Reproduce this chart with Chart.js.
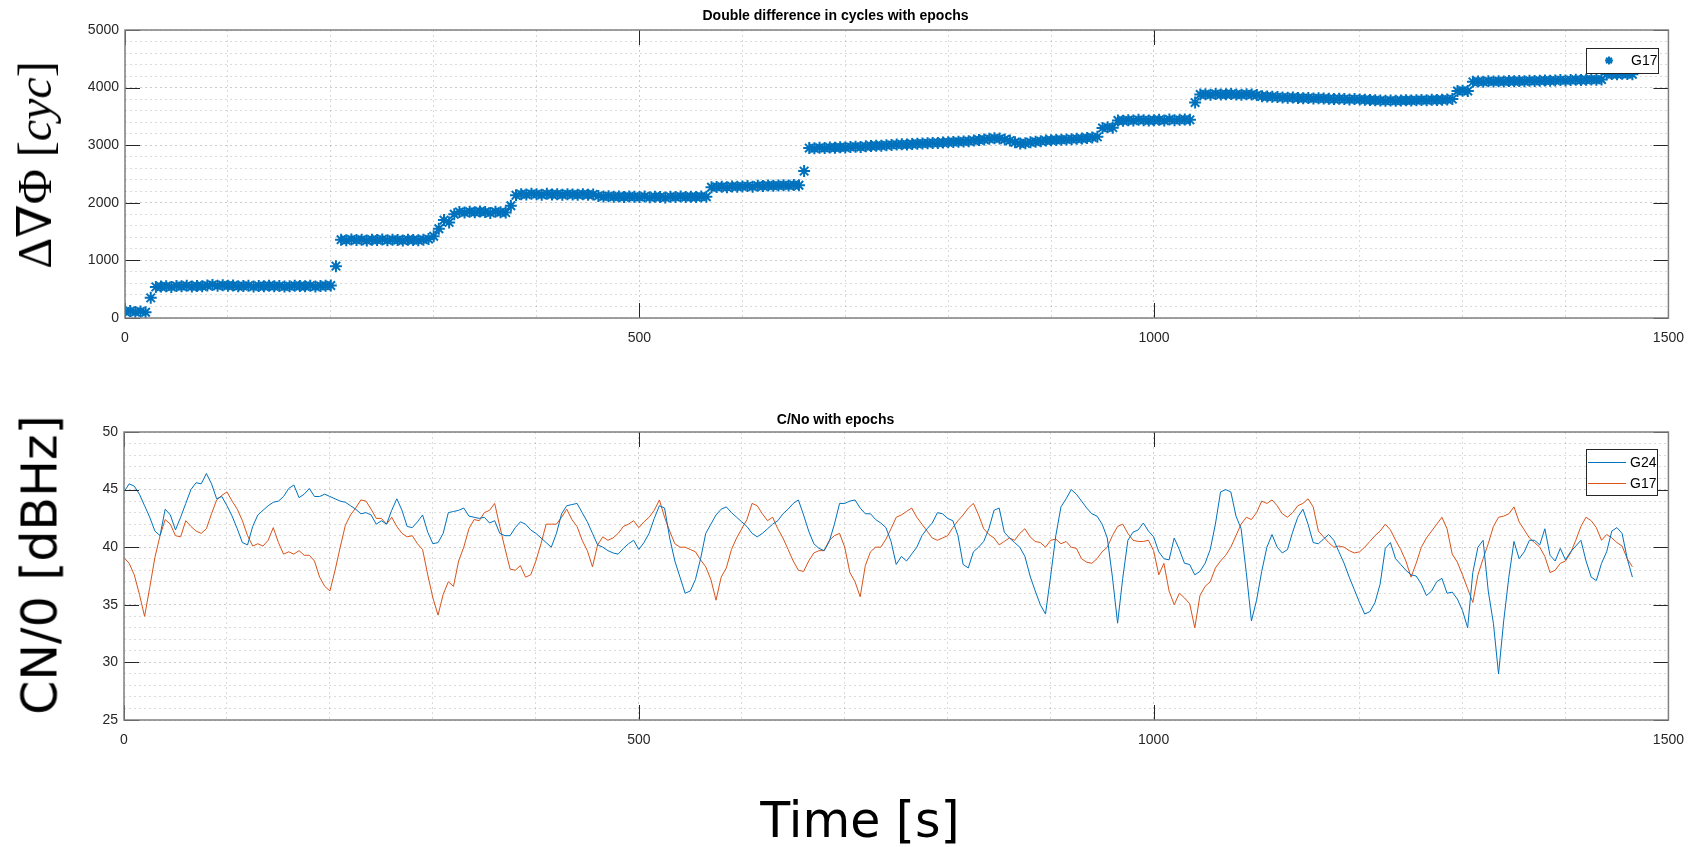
<!DOCTYPE html>
<html>
<head>
<meta charset="utf-8">
<title>Double difference and C/No with epochs</title>
<script src="https://cdn.jsdelivr.net/npm/chart.js@4/dist/chart.umd.min.js"></script>
<style>
    html, body { margin: 0; padding: 0; background: #fff; }
    body { width: 1696px; height: 847px; position: relative; overflow: hidden; }
    canvas { position: absolute; left: 0; }
    #ddChart { top: 0; }
    #cnoChart { top: 380px; }
    .label { position: absolute; white-space: nowrap; color: #000; line-height: 1; }
    .vertical { transform: translate(-50%, -50%) rotate(-90deg); }
    #ddLabel { left: 35px; top: 165px; font-family: 'Liberation Serif', 'DejaVu Serif', serif; font-size: 48px; }
    #cnoLabel { left: 40px; top: 565px; font-family: 'DejaVu Sans', Verdana, sans-serif; font-size: 49px; }
    #timeLabel { left: 860px; top: 820px; transform: translate(-50%, -50%); font-family: 'DejaVu Sans', Verdana, sans-serif; font-size: 49px; }
</style>
</head>
<body>
<canvas id="ddChart" width="1696" height="360"></canvas>
<canvas id="cnoChart" width="1696" height="380"></canvas>
<div id="ddLabel" class="label vertical">Δ∇Φ [<i>cyc</i>]</div>
<div id="cnoLabel" class="label vertical">CN/0 [dBHz]</div>
<div id="timeLabel" class="label">Time [s]</div>
<script>
// one sample every 5 s of the session
var EPOCH_STEP = 5;

var timeTicks = [0, 500, 1000, 1500];
var ddTicks = [0, 1000, 2000, 3000, 4000, 5000];
var cnoTicks = [25, 30, 35, 40, 45, 50];

// double difference G17, cycles
var ddG17 = [
    110, 120, 105, 115, 100, 350, 540, 545, 550, 540, 555, 550, 560, 545, 555, 550, 565, 575, 560, 570,
    560, 565, 550, 555, 560, 545, 555, 550, 560, 550, 555, 545, 550, 560, 555, 550, 560, 545, 555, 560,
    565, 900, 1360, 1350, 1365, 1355, 1360, 1345, 1360, 1355, 1365, 1350, 1360, 1355, 1345, 1360, 1355, 1350, 1360, 1370,
    1420, 1550, 1700, 1660, 1800, 1840, 1830, 1845, 1835, 1850, 1840, 1825, 1845, 1835, 1830, 1950, 2130, 2150, 2145, 2155,
    2150, 2140, 2155, 2145, 2150, 2140, 2150, 2145, 2140, 2150, 2140, 2145, 2120, 2110, 2115, 2105, 2110, 2100, 2110, 2105,
    2100, 2110, 2095, 2105, 2100, 2090, 2105, 2100, 2110, 2100, 2105, 2100, 2110, 2105, 2270, 2275, 2280, 2270, 2285, 2280,
    2285, 2290, 2280, 2295, 2290, 2300, 2295, 2300, 2305, 2300, 2310, 2305, 2550, 2950, 2945, 2955, 2950, 2960, 2955, 2965,
    2960, 2970, 2975, 2970, 2980, 2985, 2990, 2990, 3000, 3005, 3010, 3015, 3010, 3020, 3025, 3030, 3035, 3040, 3040, 3045,
    3050, 3055, 3060, 3065, 3070, 3080, 3090, 3100, 3110, 3120, 3115, 3100, 3080, 3050, 3030, 3035, 3050, 3060, 3070, 3080,
    3085, 3090, 3095, 3100, 3105, 3110, 3115, 3125, 3135, 3145, 3300, 3310, 3305, 3430, 3425, 3435, 3430, 3440, 3435, 3430,
    3435, 3440, 3430, 3445, 3435, 3440, 3445, 3440, 3740, 3880, 3885, 3875, 3890, 3880, 3885, 3890, 3880, 3875, 3885, 3880,
    3870, 3850, 3845, 3840, 3835, 3830, 3825, 3830, 3820, 3815, 3820, 3810, 3815, 3810, 3805, 3800, 3805, 3800, 3795, 3800,
    3795, 3790, 3785, 3780, 3775, 3770, 3775, 3770, 3775, 3780, 3775, 3780, 3785, 3780, 3790, 3785, 3790, 3795, 3800, 3940,
    3945, 3940, 4100, 4105, 4100, 4110, 4105, 4110, 4105, 4115, 4110, 4115, 4110, 4120, 4115, 4120, 4125, 4120, 4125, 4130,
    4125, 4130, 4135, 4130, 4135, 4140, 4135, 4140, 4230, 4235, 4230, 4240, 4235, 4230
];

// carrier to noise, dBHz
var cnoG24 = [
    44.8, 45.5, 45.3, 44.6, 43.6, 42.6, 41.4, 41.0, 43.3, 42.8, 41.5, 42.6, 43.8, 45.0, 45.6, 45.5, 46.4, 45.5, 44.2, 44.4,
    43.6, 42.7, 41.6, 40.4, 40.2, 41.8, 42.8, 43.2, 43.6, 43.9, 44.0, 44.4, 45.1, 45.4, 44.3, 44.6, 45.1, 44.4, 44.4, 44.6,
    44.4, 44.2, 44.0, 43.9, 43.6, 43.3, 42.9, 43.0, 42.8, 42.0, 42.3, 42.0, 43.2, 44.2, 43.2, 41.8, 41.7, 42.2, 42.8, 41.3,
    40.3, 40.4, 41.2, 43.0, 43.1, 43.2, 43.4, 42.7, 42.6, 42.5, 42.6, 42.1, 42.3, 41.2, 41.0, 41.0, 41.7, 42.2, 42.0, 41.5,
    41.2, 40.8, 40.4, 40.0, 41.2, 42.9, 43.6, 43.7, 43.8, 43.0, 42.2, 41.2, 40.2, 40.0, 39.7, 39.5, 39.4, 39.9, 40.3, 40.6,
    39.8, 40.4, 41.2, 42.5, 43.6, 43.4, 40.8, 38.8, 37.4, 36.0, 36.2, 37.2, 39.0, 41.2, 42.0, 42.8, 43.3, 43.5, 43.0, 42.6,
    42.2, 41.8, 41.2, 40.9, 41.2, 41.6, 42.0, 42.3, 42.9, 43.3, 43.8, 44.1, 42.8, 41.4, 40.3, 39.9, 39.7, 40.5, 42.0, 43.8,
    43.8, 44.0, 44.1, 43.4, 42.9, 42.9, 42.4, 42.1, 41.7, 40.5, 38.5, 39.2, 38.8, 39.4, 40.0, 41.0, 41.6, 42.1, 43.0, 42.9,
    42.5, 42.3, 41.0, 38.5, 38.2, 39.6, 40.0, 40.5, 41.6, 43.2, 43.4, 41.3, 40.8, 40.4, 40.0, 39.2, 37.5, 36.2, 35.0, 34.2,
    37.5, 41.0, 43.5, 44.2, 45.0, 44.6, 44.0, 43.4, 42.9, 42.7, 42.0, 40.8, 37.4, 33.4, 37.3, 40.6, 41.3, 41.5, 42.1, 41.4,
    40.9, 39.6, 39.0, 38.9, 40.8, 39.8, 38.6, 38.5, 37.6, 37.9, 38.6, 39.8, 42.0, 44.8, 45.0, 44.8, 42.7, 41.6, 37.8, 33.6,
    35.4, 37.9, 40.0, 41.1, 40.0, 39.5, 39.8, 41.3, 42.6, 43.3, 42.0, 40.4, 40.3, 40.7, 41.1, 40.6, 39.6, 38.6, 37.4, 36.3,
    35.2, 34.2, 34.4, 35.2, 36.8, 39.9, 40.4, 39.0, 38.5, 38.0, 37.6, 37.5, 36.8, 35.8, 36.2, 37.0, 37.3, 36.0, 36.1, 35.5,
    34.5, 33.0, 37.8, 40.0, 40.6, 36.2, 33.4, 29.0, 33.6, 37.4, 40.5, 39.0, 39.6, 40.6, 40.6, 40.2, 41.6, 39.3, 38.8, 39.9,
    38.9, 39.6, 40.1, 40.6, 38.8, 37.4, 37.1, 38.6, 39.6, 41.4, 41.7, 41.2, 39.0, 37.4
];

var cnoG17 = [
    39.1, 38.6, 37.6, 35.9, 34.0, 36.5, 39.1, 41.0, 42.4, 42.0, 41.0, 40.9, 42.3, 41.8, 41.4, 41.2, 41.6, 42.9, 44.1, 44.5,
    44.8, 44.0, 43.3, 42.3, 41.0, 40.1, 40.3, 40.1, 40.6, 41.7, 40.4, 39.4, 39.6, 39.4, 39.7, 39.3, 39.3, 38.8, 37.4, 36.6,
    36.2, 38.0, 40.0, 41.9, 42.8, 43.4, 44.1, 44.0, 43.3, 42.5, 42.5, 42.0, 42.6, 41.8, 41.2, 40.9, 41.0, 40.3, 39.8, 37.6,
    35.6, 34.1, 35.9, 37.0, 36.6, 38.8, 40.0, 41.6, 42.4, 42.3, 43.0, 43.2, 43.8, 41.8, 39.9, 38.1, 38.0, 38.4, 37.4, 37.6,
    38.8, 40.3, 42.0, 42.0, 42.0, 42.6, 43.3, 42.4, 41.8, 40.6, 39.7, 38.3, 40.2, 40.9, 40.6, 40.8, 41.2, 41.8, 42.0, 42.3,
    41.7, 42.2, 42.6, 43.2, 44.1, 42.6, 41.4, 40.3, 40.0, 40.0, 39.8, 39.6, 38.9, 38.3, 37.2, 35.4, 37.4, 38.2, 39.8, 40.8,
    41.6, 42.4, 43.8, 43.6, 42.9, 42.3, 42.6, 41.6, 40.8, 39.8, 38.8, 38.0, 37.9, 38.8, 39.5, 39.7, 39.7, 40.6, 41.0, 41.2,
    40.0, 37.8, 37.0, 35.7, 38.4, 39.6, 40.0, 40.0, 40.7, 41.6, 42.6, 42.8, 43.1, 43.4, 42.6, 42.0, 41.4, 40.8, 40.6, 40.8,
    41.0, 41.7, 42.3, 42.8, 43.4, 43.8, 42.8, 41.6, 41.1, 40.8, 40.2, 40.5, 40.8, 40.6, 41.2, 41.6, 40.9, 40.5, 40.4, 40.0,
    40.6, 40.7, 40.3, 40.5, 40.0, 39.9, 39.0, 38.7, 38.6, 39.0, 39.6, 40.0, 41.0, 41.8, 42.0, 41.2, 40.6, 40.5, 40.5, 40.6,
    39.7, 37.6, 38.6, 36.2, 35.0, 36.0, 35.6, 35.1, 33.0, 35.8, 36.6, 37.0, 38.2, 38.8, 39.3, 40.0, 41.0, 42.0, 42.6, 42.4,
    43.0, 44.0, 43.8, 44.1, 43.6, 42.9, 42.6, 43.0, 43.6, 43.8, 44.2, 43.5, 41.4, 40.9, 40.4, 40.0, 40.1, 40.0, 39.7, 39.5,
    39.6, 40.0, 40.5, 41.0, 41.4, 42.0, 41.5, 40.6, 39.8, 38.8, 37.4, 38.6, 40.0, 40.8, 41.4, 42.0, 42.6, 41.6, 39.4, 38.7,
    37.6, 36.4, 35.2, 37.6, 39.0, 40.3, 41.8, 42.6, 42.7, 42.9, 43.5, 42.2, 41.5, 40.8, 40.4, 40.0, 39.2, 37.8, 38.0, 38.6,
    38.8, 39.5, 40.6, 41.8, 42.6, 42.3, 41.7, 40.6, 41.1, 40.8, 40.4, 40.1, 39.0, 38.3
];

var BLUE = '#0072BD';
var ORANGE = '#D95319';
var NARROW = "'Liberation Sans Narrow', 'Arial Narrow', 'Liberation Sans', Arial, sans-serif";

// box round the axes, inward major ticks and a framed legend
var axesFrame = {
    id: 'axesFrame',
    afterDatasetsDraw: function (chart, args, opts) {
        var ctx = chart.ctx;
        var a = chart.chartArea;
        var sx = chart.scales.x;
        var sy = chart.scales.y;
        var len = 15;
        ctx.save();
        ctx.strokeStyle = '#262626';
        ctx.lineWidth = 1;
        ctx.beginPath();
        opts.xMajor.forEach(function (v) {
            var px = Math.round(sx.getPixelForValue(v)) + 0.5;
            ctx.moveTo(px, a.top); ctx.lineTo(px, a.top + len);
            ctx.moveTo(px, a.bottom); ctx.lineTo(px, a.bottom - len);
        });
        opts.yMajor.forEach(function (v) {
            var py = Math.round(sy.getPixelForValue(v)) + 0.5;
            ctx.moveTo(a.left, py); ctx.lineTo(a.left + len, py);
            ctx.moveTo(a.right, py); ctx.lineTo(a.right - len, py);
        });
        ctx.stroke();

        ctx.strokeStyle = '#808080';
        ctx.lineWidth = 1.5;
        ctx.strokeRect(a.left, a.top, a.right - a.left, a.bottom - a.top);

        // legend box in the upper right corner
        var lg = opts.legend;
        ctx.fillStyle = '#fff';
        ctx.fillRect(lg.left, lg.top, lg.width, lg.height);
        ctx.strokeStyle = '#262626';
        ctx.lineWidth = 1;
        ctx.strokeRect(lg.left + 0.5, lg.top + 0.5, lg.width, lg.height);
        ctx.font = '14px ' + NARROW;
        ctx.textBaseline = 'middle';
        ctx.textAlign = 'left';
        chart.data.datasets.forEach(function (ds, i) {
            var y = lg.top + lg.firstRow + i * lg.rowStep;
            ctx.strokeStyle = ds.borderColor;
            ctx.fillStyle = ds.borderColor;
            if (ds.showLine === false) {
                ctx.lineWidth = ds.borderWidth;
                Chart.helpers.drawPoint(ctx, { pointStyle: ds.pointStyle, radius: 4, borderWidth: ds.borderWidth }, lg.sampleX, y);
            } else {
                ctx.lineWidth = ds.borderWidth;
                ctx.beginPath();
                ctx.moveTo(lg.sampleFrom, y + 0.5);
                ctx.lineTo(lg.sampleTo, y + 0.5);
                ctx.stroke();
            }
            ctx.fillStyle = '#000';
            ctx.fillText(ds.label, lg.textX, y + 1);
        });
        ctx.restore();
    }
};

var oPlots = {
    init: function () {
        Chart.defaults.font.family = NARROW;
        Chart.defaults.color = '#262626';
        oPlots.ddGraph();
        oPlots.cnoGraph();
    },

    toPoints: function (aValues) {
        var aPoints = [];
        for (var i = 0; i < aValues.length; i++) {
            aPoints.push({ x: i * EPOCH_STEP, y: aValues[i] });
        }
        return aPoints;
    },

    gridColor: function (aMajor) {
        return function (ctx) {
            if (ctx.tick && aMajor.indexOf(ctx.tick.value) !== -1) {
                return 'rgba(0, 0, 0, 0.2)';
            }
            return 'rgba(0, 0, 0, 0.14)';
        };
    },

    majorLabel: function (aMajor) {
        return function (value) {
            return aMajor.indexOf(value) !== -1 ? String(value) : '';
        };
    },

    scales: function (aYMajor, yMin, yMax, yStep, yWidth, xHeight) {
        return {
            x: {
                type: 'linear',
                min: 0,
                max: 1500,
                afterFit: function (scale) { scale.height = xHeight; },
                ticks: {
                    stepSize: 100,
                    autoSkip: false,
                    maxRotation: 0,
                    padding: 12,
                    font: { size: 14 },
                    callback: oPlots.majorLabel(timeTicks)
                },
                grid: { color: oPlots.gridColor(timeTicks), drawTicks: false },
                border: { display: false, dash: [2, 3] }
            },
            y: {
                min: yMin,
                max: yMax,
                afterFit: function (scale) { scale.width = yWidth; },
                ticks: {
                    stepSize: yStep,
                    autoSkip: false,
                    padding: 6,
                    font: { size: 14 },
                    callback: oPlots.majorLabel(aYMajor)
                },
                grid: { color: oPlots.gridColor(aYMajor), drawTicks: false },
                border: { display: false, dash: [2, 3] }
            }
        };
    },

    ddGraph: function () {
        var ctx = document.getElementById('ddChart').getContext('2d');
        new Chart(ctx, {
            type: 'scatter',
            data: {
                datasets: [{
                    label: 'G17',
                    data: oPlots.toPoints(ddG17),
                    showLine: false,
                    pointStyle: 'star',
                    pointRadius: 6,
                    pointHoverRadius: 6,
                    borderColor: BLUE,
                    backgroundColor: BLUE,
                    borderWidth: 2
                }]
            },
            options: {
                responsive: false,
                animation: false,
                devicePixelRatio: 1,
                layout: { padding: { left: 0, right: 25, top: 0, bottom: 0 } },
                scales: oPlots.scales(ddTicks, 0, 5000, 200, 125, 42),
                plugins: {
                    title: {
                        display: true,
                        text: 'Double difference in cycles with epochs',
                        color: '#000',
                        font: { size: 14, weight: 'bold', lineHeight: 1.2 },
                        padding: { top: 8, bottom: 5.2 }
                    },
                    legend: { display: false },
                    tooltip: { enabled: false },
                    axesFrame: {
                        xMajor: timeTicks,
                        yMajor: ddTicks,
                        legend: { left: 1586, top: 48, width: 72, height: 25, firstRow: 12.5, rowStep: 21, sampleX: 1609, textX: 1631 }
                    }
                }
            },
            plugins: [axesFrame]
        });
    },

    cnoGraph: function () {
        var ctx = document.getElementById('cnoChart').getContext('2d');
        new Chart(ctx, {
            type: 'line',
            data: {
                datasets: [{
                    label: 'G24',
                    data: oPlots.toPoints(cnoG24),
                    borderColor: BLUE,
                    backgroundColor: BLUE,
                    borderWidth: 1,
                    pointRadius: 0,
                    tension: 0
                }, {
                    label: 'G17',
                    data: oPlots.toPoints(cnoG17),
                    borderColor: ORANGE,
                    backgroundColor: ORANGE,
                    borderWidth: 1,
                    pointRadius: 0,
                    tension: 0
                }]
            },
            options: {
                responsive: false,
                animation: false,
                devicePixelRatio: 1,
                layout: { padding: { left: 0, right: 25, top: 0, bottom: 0 } },
                scales: oPlots.scales(cnoTicks, 25, 50, 1, 124, 40),
                plugins: {
                    title: {
                        display: true,
                        text: 'C/No with epochs',
                        color: '#000',
                        font: { size: 14, weight: 'bold', lineHeight: 1.2 },
                        padding: { top: 31.6, bottom: 3.6 }
                    },
                    legend: { display: false },
                    tooltip: { enabled: false },
                    axesFrame: {
                        xMajor: timeTicks,
                        yMajor: cnoTicks,
                        legend: { left: 1586, top: 69, width: 71, height: 46, firstRow: 13, rowStep: 21, sampleFrom: 1588, sampleTo: 1626, textX: 1630 }
                    }
                }
            },
            plugins: [axesFrame]
        });
    }
};

oPlots.init();
</script>
</body>
</html>
